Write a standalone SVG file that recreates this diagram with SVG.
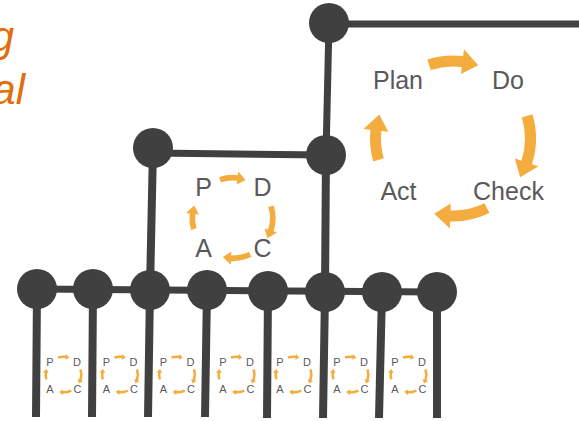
<svg xmlns="http://www.w3.org/2000/svg" xmlns:xlink="http://www.w3.org/1999/xlink" width="579" height="421" viewBox="0 0 579 421">
<style>
.ln{stroke:#404040;stroke-width:7;fill:none;stroke-linecap:butt}
.st{stroke:#404040;stroke-width:8;fill:none}
.nd{fill:#404040}
.ar{fill:#F5AC3F}
.big{font-family:"Liberation Sans",Arial,sans-serif;font-size:25px;fill:#595959;text-anchor:middle}
.mid{font-family:"Liberation Sans",Arial,sans-serif;font-size:25px;fill:#595959;text-anchor:middle}
.sm{font-family:"Liberation Sans",Arial,sans-serif;font-size:11px;fill:#595959;text-anchor:middle}
.or{font-family:"Liberation Sans",Arial,sans-serif;font-size:42px;font-style:italic;fill:#E46C0A;text-anchor:end}
</style>
<defs>
<g id="arrows">
<path class="ar" d="M-25.65,-78.94 A83,83 0 0 1 10.12,-82.38 L10.97,-89.33 L25.23,-73.28 L7.92,-64.52 L8.77,-71.46 A72,72 0 0 0 -22.25,-68.48 Z"/>
<path class="ar" d="M79.37,-24.27 A83,83 0 0 1 78.94,25.65 L85.60,27.81 L67.12,38.75 L61.82,20.09 L68.48,22.25 A72,72 0 0 0 68.85,-21.05 Z"/>
<path class="ar" d="M36.38,74.60 A83,83 0 0 1 -2.90,82.95 L-3.14,89.95 L-18.75,75.20 L-2.27,64.96 L-2.51,71.96 A72,72 0 0 0 31.56,64.71 Z"/>
<path class="ar" d="M-79.78,22.88 A83,83 0 0 1 -82.55,-8.68 L-89.51,-9.41 L-73.71,-23.95 L-64.64,-6.79 L-71.61,-7.53 A72,72 0 0 0 -69.21,19.85 Z"/>
</g>
<g id="mini">
<use xlink:href="#arrows" href="#arrows" transform="scale(0.23)"/>
<text class="sm" x="-13.5" y="-8.5">P</text>
<text class="sm" x="13.5" y="-8.5">D</text>
<text class="sm" x="-13.5" y="18.5">A</text>
<text class="sm" x="14" y="18.5">C</text>
</g>
</defs>
<rect width="579" height="421" fill="#ffffff"/>

<g id="title">
<text class="or" x="14" y="51">g</text>
<text class="or" x="25" y="104">al</text>
</g>

<g id="connectors">
<line class="ln" x1="329" y1="24" x2="579" y2="24"/>
<line class="ln" x1="329" y1="23" x2="326" y2="155"/>
<line class="ln" x1="153" y1="153" x2="326" y2="155"/>
<line class="st" x1="326" y1="155" x2="325" y2="292"/>
<line class="st" x1="153" y1="148" x2="150" y2="290"/>
<line class="ln" x1="37" y1="289" x2="437" y2="292"/>
<line class="st" x1="37" y1="289" x2="36" y2="417"/>
<line class="st" x1="93" y1="289" x2="92" y2="417"/>
<line class="st" x1="150" y1="290" x2="148" y2="417"/>
<line class="st" x1="207" y1="290" x2="205" y2="417"/>
<line class="st" x1="268" y1="291" x2="267" y2="418"/>
<line class="st" x1="325" y1="292" x2="323" y2="418"/>
<line class="st" x1="382" y1="292" x2="379" y2="418"/>
<line class="st" x1="437" y1="292" x2="437" y2="418"/>
</g>

<g id="node-top"><circle class="nd" cx="329" cy="23" r="20"/></g>
<g id="node-mid-left"><circle class="nd" cx="153" cy="148" r="20"/></g>
<g id="node-mid-right"><circle class="nd" cx="326" cy="155" r="20"/></g>
<g id="node-b1"><circle class="nd" cx="37" cy="289" r="20"/></g>
<g id="node-b2"><circle class="nd" cx="93" cy="289" r="20"/></g>
<g id="node-b3"><circle class="nd" cx="150" cy="290" r="20"/></g>
<g id="node-b4"><circle class="nd" cx="207" cy="290" r="20"/></g>
<g id="node-b5"><circle class="nd" cx="268" cy="291" r="20"/></g>
<g id="node-b6"><circle class="nd" cx="325" cy="292" r="20"/></g>
<g id="node-b7"><circle class="nd" cx="382" cy="292" r="20"/></g>
<g id="node-b8"><circle class="nd" cx="437" cy="292" r="20"/></g>

<g id="pdca-big">
<use xlink:href="#arrows" href="#arrows" transform="translate(453,138.5)"/>
<text class="big" x="398" y="89">Plan</text>
<text class="big" x="508" y="89">Do</text>
<text class="big" x="508.5" y="200">Check</text>
<text class="big" x="398.5" y="200">Act</text>
</g>

<g id="pdca-mid">
<use xlink:href="#arrows" href="#arrows" transform="translate(232.5,218) scale(0.52)"/>
<text class="mid" x="203.5" y="196">P</text>
<text class="mid" x="262.5" y="196">D</text>
<text class="mid" x="203.5" y="257">A</text>
<text class="mid" x="262.5" y="257">C</text>
</g>

<g id="pdca-small-1"><use xlink:href="#mini" href="#mini" transform="translate(63.5,374.5)"/></g>
<g id="pdca-small-2"><use xlink:href="#mini" href="#mini" transform="translate(120,374.5)"/></g>
<g id="pdca-small-3"><use xlink:href="#mini" href="#mini" transform="translate(177,374.5)"/></g>
<g id="pdca-small-4"><use xlink:href="#mini" href="#mini" transform="translate(236.5,374.5)"/></g>
<g id="pdca-small-5"><use xlink:href="#mini" href="#mini" transform="translate(293.5,374.5)"/></g>
<g id="pdca-small-6"><use xlink:href="#mini" href="#mini" transform="translate(350.5,374.5)"/></g>
<g id="pdca-small-7"><use xlink:href="#mini" href="#mini" transform="translate(408.5,374.5)"/></g>
</svg>
